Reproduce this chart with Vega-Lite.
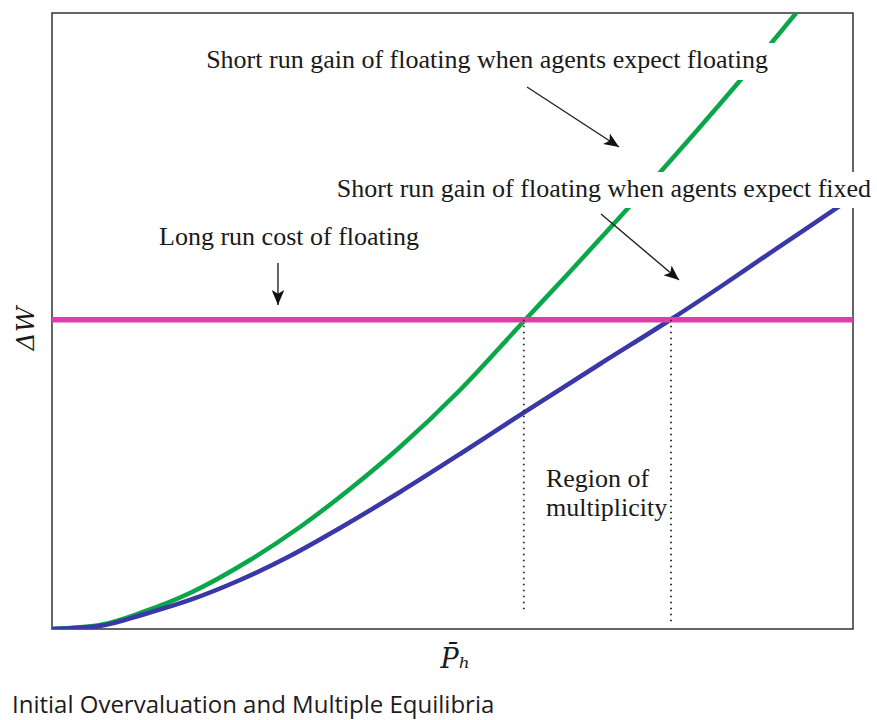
{
  "$schema": "https://vega.github.io/schema/vega-lite/v6.json",
  "width": 801,
  "height": 616,
  "autosize": {"type": "none"},
  "padding": {"left": 52, "top": 13, "right": 24, "bottom": 91},
  "background": "white",
  "config": {
    "view": {"stroke": "#333333", "strokeWidth": 1.5},
    "font": "Liberation Serif"
  },
  "title": {
    "text": "Initial Overvaluation and Multiple Equilibria",
    "orient": "bottom",
    "anchor": "start",
    "frame": "group",
    "dx": -40,
    "offset": 22,
    "baseline": "top",
    "font": "Open Sans",
    "fontSize": 24,
    "fontWeight": "normal",
    "color": "#1f1b1c"
  },
  "datasets": {
    "curves": [
      {"series": "floating", "x": 0, "y": 0},
      {"series": "floating", "x": 5.99, "y": 0.65},
      {"series": "floating", "x": 11.36, "y": 2.76},
      {"series": "floating", "x": 17.23, "y": 5.84},
      {"series": "floating", "x": 24.72, "y": 11.2},
      {"series": "floating", "x": 30.96, "y": 16.56},
      {"series": "floating", "x": 37.2, "y": 22.73},
      {"series": "floating", "x": 43.45, "y": 29.55},
      {"series": "floating", "x": 50.94, "y": 38.8},
      {"series": "floating", "x": 59.05, "y": 50.16},
      {"series": "floating", "x": 64.29, "y": 57.47},
      {"series": "floating", "x": 70.91, "y": 66.88},
      {"series": "floating", "x": 80.9, "y": 81.49},
      {"series": "floating", "x": 86.27, "y": 89.61},
      {"series": "floating", "x": 92.9, "y": 100},
      {"series": "fixed", "x": 0, "y": 0},
      {"series": "fixed", "x": 5.99, "y": 0.49},
      {"series": "fixed", "x": 11.61, "y": 2.44},
      {"series": "fixed", "x": 17.23, "y": 4.71},
      {"series": "fixed", "x": 23.47, "y": 7.95},
      {"series": "fixed", "x": 29.71, "y": 11.85},
      {"series": "fixed", "x": 35.96, "y": 16.4},
      {"series": "fixed", "x": 43.45, "y": 22.24},
      {"series": "fixed", "x": 50.94, "y": 28.41},
      {"series": "fixed", "x": 58.8, "y": 35.06},
      {"series": "fixed", "x": 68.41, "y": 43.02},
      {"series": "fixed", "x": 77.15, "y": 50.16},
      {"series": "fixed", "x": 83.4, "y": 55.52},
      {"series": "fixed", "x": 89.26, "y": 60.71},
      {"series": "fixed", "x": 94.63, "y": 65.42},
      {"series": "fixed", "x": 100, "y": 70.13}
    ],
    "cost": [{"x": 0, "x2": 100, "y": 50.2}],
    "dotted": [
      {"x": 58.9, "y": 50.2, "y2": 2.9},
      {"x": 77.28, "y": 50.2, "y2": 1.0}
    ],
    "arrows": [
      {"id": "a1", "x": 59.3, "y": 87.99, "x2": 70.79, "y2": 78.25},
      {"id": "a2", "x": 68.54, "y": 67.37, "x2": 78.28, "y2": 56.66},
      {"id": "a3", "x": 28.21, "y": 59.42, "x2": 28.21, "y2": 52.6}
    ],
    "boxes": [
      {"x": 17.85, "x2": 90.89, "y": 95.13, "y2": 89.12},
      {"x": 34.21, "x2": 103.0, "y": 74.19, "y2": 68.34}
    ],
    "labels": [
      {"text": "Short run gain of floating when agents expect floating", "x": 54.31, "y": 91.07},
      {"text": "Short run gain of floating when agents expect fixed", "x": 68.91, "y": 70.13},
      {"text": "Long run cost of floating", "x": 29.59, "y": 62.34}
    ],
    "region": [
      {"text": "Region of", "x": 61.67, "y": 23.05},
      {"text": "multiplicity", "x": 61.67, "y": 18.34}
    ]
  },
  "encoding": {
    "x": {
      "type": "quantitative",
      "scale": {"domain": [0, 100], "nice": false, "zero": false},
      "axis": {
        "title": "P̄ₕ",
        "domain": false, "ticks": false, "labels": false, "grid": false,
        "titleFont": "DejaVu Serif", "titleFontStyle": "italic", "titleFontWeight": "normal",
        "titleFontSize": 27, "titleColor": "#1a1a1a",
        "titleX": 403, "titleY": 38, "titleBaseline": "alphabetic", "titleAlign": "center"
      }
    },
    "y": {
      "type": "quantitative",
      "scale": {"domain": [0, 100], "nice": false, "zero": false},
      "axis": {
        "title": "ΔW",
        "domain": false, "ticks": false, "labels": false, "grid": false,
        "titleFont": "DejaVu Serif", "titleFontStyle": "italic", "titleFontWeight": "normal",
        "titleFontSize": 25, "titleColor": "#1a1a1a",
        "titleX": -19, "titleY": 315, "titleBaseline": "alphabetic", "titleAlign": "center", "titleAngle": -90
      }
    }
  },
  "layer": [
    {
      "data": {"name": "curves"},
      "mark": {"type": "line", "strokeWidth": 4.5, "clip": true, "interpolate": "monotone"},
      "encoding": {
        "x": {"field": "x"},
        "y": {"field": "y"},
        "color": {"field": "series", "type": "nominal", "scale": {"domain": ["floating", "fixed"], "range": ["#0aa64a", "#3a37a6"]}, "legend": null}
      }
    },
    {
      "data": {"name": "cost"},
      "mark": {"type": "rule", "strokeWidth": 5.5, "color": "#e03daa"},
      "encoding": {"x": {"field": "x"}, "x2": {"field": "x2"}, "y": {"field": "y"}}
    },
    {
      "data": {"name": "dotted"},
      "mark": {"type": "rule", "strokeWidth": 1.8, "color": "#222222", "strokeDash": [1.5, 4.5]},
      "encoding": {"x": {"field": "x"}, "y": {"field": "y"}, "y2": {"field": "y2"}}
    },
    {
      "data": {"name": "boxes"},
      "mark": {"type": "rect", "color": "white", "opacity": 1, "clip": false},
      "encoding": {"x": {"field": "x"}, "x2": {"field": "x2"}, "y": {"field": "y"}, "y2": {"field": "y2"}}
    },
    {
      "data": {"name": "labels"},
      "mark": {"type": "text", "font": "Liberation Serif", "fontSize": 26, "color": "#1a1a1a", "baseline": "alphabetic", "align": "center", "clip": false},
      "encoding": {"x": {"field": "x"}, "y": {"field": "y"}, "text": {"field": "text"}}
    },
    {
      "data": {"name": "region"},
      "mark": {"type": "text", "font": "Liberation Serif", "fontSize": 26, "color": "#1a1a1a", "baseline": "alphabetic", "align": "left"},
      "encoding": {"x": {"field": "x"}, "y": {"field": "y"}, "text": {"field": "text"}}
    },
    {
      "data": {"name": "arrows"},
      "mark": {"type": "rule", "strokeWidth": 1.4, "color": "#222222"},
      "encoding": {"x": {"field": "x"}, "y": {"field": "y"}, "x2": {"field": "x2"}, "y2": {"field": "y2"}}
    },
    {
      "data": {"name": "arrows"},
      "transform": [{"filter": "datum.id === 'a1'"}],
      "mark": {"type": "point", "filled": true, "color": "#111111", "opacity": 1, "size": 900, "angle": 123, "shape": "M0,0 L0.42,1 L0,0.75 L-0.42,1 Z"},
      "encoding": {"x": {"field": "x2"}, "y": {"field": "y2"}}
    },
    {
      "data": {"name": "arrows"},
      "transform": [{"filter": "datum.id === 'a2'"}],
      "mark": {"type": "point", "filled": true, "color": "#111111", "opacity": 1, "size": 900, "angle": 130, "shape": "M0,0 L0.42,1 L0,0.75 L-0.42,1 Z"},
      "encoding": {"x": {"field": "x2"}, "y": {"field": "y2"}}
    },
    {
      "data": {"name": "arrows"},
      "transform": [{"filter": "datum.id === 'a3'"}],
      "mark": {"type": "point", "filled": true, "color": "#111111", "opacity": 1, "size": 900, "angle": 180, "shape": "M0,0 L0.42,1 L0,0.75 L-0.42,1 Z"},
      "encoding": {"x": {"field": "x2"}, "y": {"field": "y2"}}
    }
  ]
}
